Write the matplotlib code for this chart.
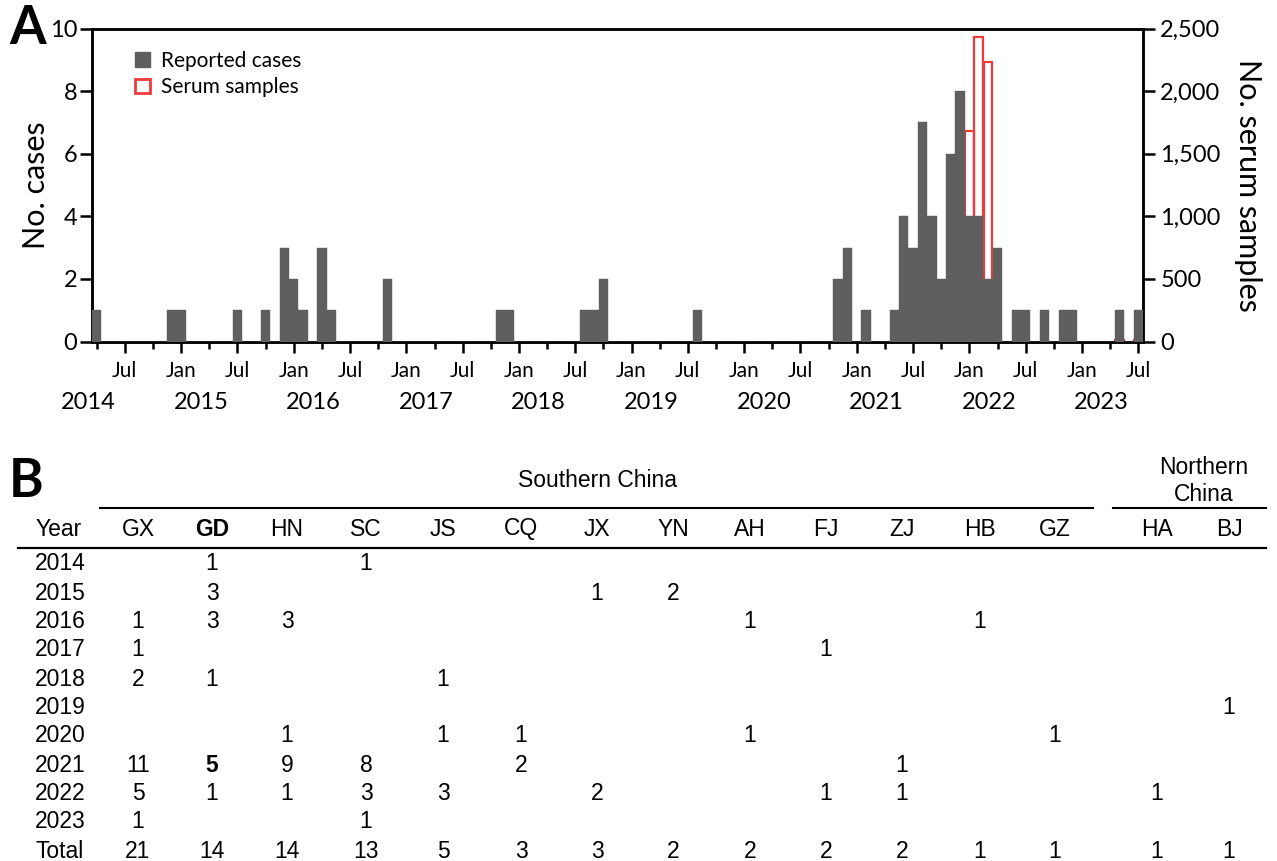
import matplotlib
matplotlib.use('Agg')
import matplotlib.pyplot as plt
import matplotlib.transforms as mtransforms
from matplotlib.patches import Patch
from matplotlib.ticker import FuncFormatter
import numpy as np
import pandas as pd

# ---------------- Panel A data ----------------
months = pd.period_range('2014-04', '2023-07', freq='M')
cases_2014 = [1, 0, 0, 0, 0, 0, 0, 0, 1]            # Apr-Dec
cases_2015 = [1, 0, 0, 0, 0, 0, 1, 0, 0, 1, 0, 3]
cases_2016 = [2, 1, 0, 3, 1, 0, 0, 0, 0, 0, 2, 0]
cases_2017 = [0, 0, 0, 0, 0, 0, 0, 0, 0, 0, 1, 1]
cases_2018 = [0, 0, 0, 0, 0, 0, 0, 1, 1, 2, 0, 0]
cases_2019 = [0, 0, 0, 0, 0, 0, 0, 1, 0, 0, 0, 0]
cases_2020 = [0, 0, 0, 0, 0, 0, 0, 0, 0, 0, 2, 3]
cases_2021 = [0, 1, 0, 0, 1, 4, 3, 7, 4, 2, 6, 8]
cases_2022 = [4, 4, 2, 3, 0, 1, 1, 0, 1, 0, 1, 1]
cases_2023 = [0, 0, 0, 0, 1, 0, 1]                  # Jan-Jul
serum_months = ['2022-01', '2022-02', '2022-03', '2023-05', '2023-07']
serum_samples = [1680, 2430, 2230, 8, 8]
year_labels = ['2014', '2015', '2016', '2017', '2018', '2019', '2020', '2021', '2022', '2023']

# ---------------- Panel B data ----------------
table_years = ['2014', '2015', '2016', '2017', '2018', '2019', '2020', '2021', '2022', '2023']
provinces = ['GX', 'GD', 'HN', 'SC', 'JS', 'CQ', 'JX', 'YN', 'AH', 'FJ', 'ZJ', 'HB', 'GZ', 'HA', 'BJ']
GX = [0, 0, 1, 1, 2, 0, 0, 11, 5, 1]
GD = [1, 3, 3, 0, 1, 0, 0, 5, 1, 0]
HN = [0, 0, 3, 0, 0, 0, 1, 9, 1, 0]
SC = [1, 0, 0, 0, 0, 0, 0, 8, 3, 1]
JS = [0, 0, 0, 0, 1, 0, 1, 0, 3, 0]
CQ = [0, 0, 0, 0, 0, 0, 1, 2, 0, 0]
JX = [0, 1, 0, 0, 0, 0, 0, 0, 2, 0]
YN = [0, 2, 0, 0, 0, 0, 0, 0, 0, 0]
AH = [0, 0, 1, 0, 0, 0, 1, 0, 0, 0]
FJ = [0, 0, 0, 1, 0, 0, 0, 0, 1, 0]
ZJ = [0, 0, 0, 0, 0, 0, 0, 1, 1, 0]
HB = [0, 0, 1, 0, 0, 0, 0, 0, 0, 0]
GZ = [0, 0, 0, 0, 0, 0, 1, 0, 0, 0]
HA = [0, 0, 0, 0, 0, 0, 0, 0, 1, 0]
BJ = [0, 0, 0, 0, 0, 1, 0, 0, 0, 0]
totals = [21, 14, 14, 13, 5, 3, 3, 2, 2, 2, 2, 1, 1, 1, 1]
table_cols = [GX, GD, HN, SC, JS, CQ, JX, YN, AH, FJ, ZJ, HB, GZ, HA, BJ]

# ---------------- figure ----------------
W, H = 1277, 861
fig = plt.figure(figsize=(W / 100, H / 100), dpi=100)
plt.rcParams['font.family'] = ['Lato', 'DejaVu Sans']

def fx(x):
    return x / W

def fy(y):
    return 1 - y / H

GRAY = '#5f5f5f'
RED = '#ef3b3b'

ax = fig.add_axes([fx(92), fy(341.5), fx(1143) - fx(92), fy(28.5) - fy(341.5)])
ax2 = ax.twinx()

cases = (cases_2014 + cases_2015 + cases_2016 + cases_2017 + cases_2018 +
         cases_2019 + cases_2020 + cases_2021 + cases_2022 + cases_2023)
pos = np.arange(len(months))
ax.bar(pos, cases, width=1.0, color=GRAY, edgecolor=GRAY, linewidth=0.3, zorder=3)

serum_pos = [months.get_loc(pd.Period(m, freq='M')) for m in serum_months]
ax2.bar(serum_pos, serum_samples, width=0.92, facecolor='none', edgecolor=RED,
        linewidth=1.6, zorder=2)

ax.set_zorder(ax2.get_zorder() + 1)
ax.patch.set_visible(False)

ax.set_xlim(-0.5, len(months) - 0.5)
ax.set_ylim(0, 10)
ax2.set_ylim(0, 2500)
ax.set_yticks([0, 2, 4, 6, 8, 10])
ax2.set_yticks([0, 500, 1000, 1500, 2000, 2500])
ax2.yaxis.set_major_formatter(FuncFormatter(lambda v, p: f'{int(v):,}'))

major = [i for i, m in enumerate(months) if m.month in (1, 7)]
minor = [i for i, m in enumerate(months) if m.month in (4, 10)]
ax.set_xticks(major)
ax.set_xticklabels([months[i].strftime('%b') for i in major])
ax.set_xticks(minor, minor=True)

for a in (ax, ax2):
    for s in a.spines.values():
        s.set_linewidth(1.8)
        s.set_color('black')

ax.tick_params(axis='x', which='major', length=8, width=1.8, pad=6, labelsize=15)
ax.tick_params(axis='x', which='minor', length=5, width=1.8)
ax.tick_params(axis='y', length=8.5, width=1.8, pad=2, labelsize=17)
ax2.tick_params(axis='y', length=8.5, width=1.8, pad=4, labelsize=17)

ax.set_ylabel('No. cases', fontsize=22, labelpad=0)
ax2.set_ylabel('No. serum samples', fontsize=22, rotation=270, labelpad=30)

trans = mtransforms.blended_transform_factory(ax.transData, ax.transAxes)
for k, yl in enumerate(year_labels):
    ax.text(12 * k - 0.9, -0.196, yl, transform=trans, ha='center', va='center',
            fontsize=17)

handles = [Patch(facecolor=GRAY, edgecolor=GRAY, label='Reported cases'),
           Patch(facecolor='white', edgecolor=RED, linewidth=2, label='Serum samples')]
ax.legend(handles=handles, loc='upper left', bbox_to_anchor=(0.033, 0.955),
          frameon=False, fontsize=15, handlelength=0.7, handleheight=0.7,
          handletextpad=0.55, labelspacing=0.3, borderaxespad=0)

fig.text(fx(9), fy(28), 'A', fontsize=38, fontweight='bold', va='center', ha='left')
fig.text(fx(9), fy(482), 'B', fontsize=38, fontweight='bold', va='center', ha='left')

# ---------------- Panel B table ----------------
TF = ['Liberation Sans', 'DejaVu Sans']
TS = 16.5
col_x = [138, 212, 287, 366, 443, 521, 597, 673, 750, 826, 902, 980, 1055, 1157, 1229]
row_y = [564, 593, 621, 650, 679, 707, 736, 765, 793, 822]
total_y = 852
header_y = 529

fig.text(fx(597), fy(481), 'Southern China', family=TF, fontsize=TS, ha='center', va='center')
fig.text(fx(1204), fy(481), 'Northern\nChina', family=TF, fontsize=TS, ha='center',
         va='center', linespacing=1.2)
fig.add_artist(plt.Line2D([fx(100), fx(1093)], [fy(508), fy(508)], color='black', lw=1.5))
fig.add_artist(plt.Line2D([fx(1113), fx(1266)], [fy(508), fy(508)], color='black', lw=1.5))
fig.add_artist(plt.Line2D([fx(18), fx(1266)], [fy(548), fy(548)], color='black', lw=1.6))

fig.text(fx(36), fy(header_y), 'Year', family=TF, fontsize=TS, ha='left', va='center')
for p, x in zip(provinces, col_x):
    fig.text(fx(x), fy(header_y), p, family=TF, fontsize=TS, ha='center', va='center',
             fontweight='bold' if p == 'GD' else 'normal')

for r, (yr, y) in enumerate(zip(table_years, row_y)):
    fig.text(fx(35), fy(y), yr, family=TF, fontsize=TS, ha='left', va='center')
    for c, (p, x) in enumerate(zip(provinces, col_x)):
        v = table_cols[c][r]
        if v:
            bold = (p == 'GD' and yr == '2021')
            fig.text(fx(x), fy(y), str(v), family=TF, fontsize=TS, ha='center', va='center',
                     fontweight='bold' if bold else 'normal')

fig.text(fx(35), fy(total_y), 'Total', family=TF, fontsize=TS, ha='left', va='center')
for t, x in zip(totals, col_x):
    fig.text(fx(x), fy(total_y), str(t), family=TF, fontsize=TS, ha='center', va='center')

fig.savefig('out.png', dpi=100)
